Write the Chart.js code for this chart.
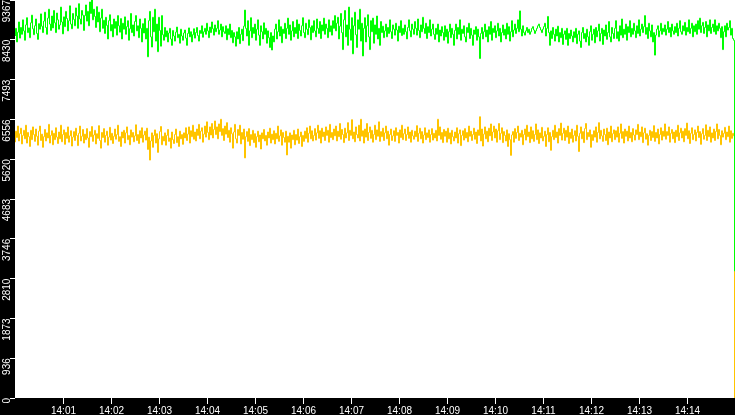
<!DOCTYPE html>
<html>
<head>
<meta charset="utf-8">
<script src="https://cdn.jsdelivr.net/npm/chart.js@4.4.1/dist/chart.umd.min.js"></script>
<style>
  html, body { margin: 0; padding: 0; background: #000; }
  canvas { display: block; }
</style>
</head>
<body>
<canvas id="chart" width="735" height="415"></canvas>
<script>
// sampling: one value every 1.25 s starting at 14:00:00, 15 minutes shown
const stepSeconds = 1.25
const spanSeconds = 900

const xTickLabels = ["14:01", "14:02", "14:03", "14:04", "14:05", "14:06", "14:07",
  "14:08", "14:09", "14:10", "14:11", "14:12", "14:13", "14:14"]
const xTickSeconds = [60, 120, 180, 240, 300, 360, 420, 480, 540, 600, 660, 720, 780, 840]

const yMax = 9367
const yTickLabels = ["0", "936", "1873", "2810", "3746", "4683", "5620", "6556", "7493", "8430", "9367"]

const greenValues = [
  8520, 8700, 8380, 8610, 8850, 8470, 8720, 8560, 8900, 8640,
  8420, 8780, 8950, 8600, 8710, 8480, 8830, 9010, 8690, 8550,
  8760, 8920, 8580, 8440, 8810, 8680, 9040, 8750, 8600, 8870,
  9080, 8720, 8560, 8940, 9150, 8800, 8650, 8990, 8710, 9120,
  8830, 8600, 9060, 8900, 8680, 8780, 9200, 8850, 8570, 8970,
  8740, 9100, 8930, 8640, 8880, 9230, 8800, 8690, 9050, 8910,
  8760, 9180, 8990, 8700, 9280, 8920, 8800, 9120, 9010, 8650,
  9000, 9250, 8870, 9100, 8760, 9320, 9050, 9367, 8900, 9150,
  8980, 8720, 9210, 8850, 9080, 8620, 8940, 9150, 8700, 8890,
  8580, 8960, 8770, 8450, 8880, 9020, 8640, 8790, 8500, 8920,
  8700, 8860, 8540, 9000, 8760, 8610, 8930, 8450, 8820, 8680,
  8970, 8560, 8740, 8880, 8420, 8690, 9050, 8600, 8780, 8520,
  8860, 9000, 8640, 8760, 8480, 8920, 8700, 8380, 8810, 8590,
  8930, 8450, 8700, 8030, 8880, 9100, 8500, 8260, 8960, 8620,
  9150, 8400, 8800, 8150, 8960, 8650, 8280, 9000, 8550, 8420,
  8720, 8500, 8640, 8380, 8590, 8700, 8450, 8300, 8650, 8520,
  8400, 8610, 8730, 8480, 8560, 8350, 8680, 8520, 8420, 8590,
  8660, 8470, 8300, 8580, 8710, 8500, 8620, 8380, 8550, 8690,
  8470, 8600, 8720, 8530, 8400, 8650, 8580, 8760, 8490, 8620,
  8700, 8560, 8820, 8640, 8480, 8730, 8600, 8850, 8690, 8540,
  8780, 8620, 8700, 8880, 8560, 8660, 8800, 8500, 8740, 8620,
  8580, 8760, 8430, 8690, 8550, 8800, 8480, 8650, 8360, 8600,
  8500, 8280, 8620, 8450, 8720, 8340, 8560, 8680, 8410, 8750,
  9130, 8700, 8520, 8880, 8300, 8640, 8950, 8480, 8720, 8580,
  8800, 8420, 8680, 8900, 8540, 8300, 8760, 8620, 8450, 8830,
  8560, 8700, 8350, 8640, 8480, 8250, 8600, 8190, 8520, 8380,
  8680, 8800, 8450, 8620, 8900, 8520, 8740, 8360, 8680, 8580,
  8820, 8460, 8700, 8940, 8560, 8780, 8420, 8640, 8860, 8500,
  8720, 8580, 8900, 8460, 8800, 8650, 8520, 8760, 8950, 8600,
  8480, 8820, 8680, 8550, 8900, 8720, 8430, 8760, 8600, 8880,
  8640, 8500, 8920, 8700, 8580, 8860, 8460, 8780, 8640, 8940,
  8560, 8800, 8700, 8480, 8900, 8620, 8760, 8540, 8880, 8700,
  9000, 8640, 8820, 8960, 8450, 8750, 9050, 8600, 8200, 8900,
  9120, 8500, 8780, 8300, 9200, 8680, 8420, 8950, 8100, 8760,
  9080, 8550, 8250, 8900, 8680, 9150, 8400, 8820, 8050, 8700,
  8950, 8380, 8760, 9020, 8500, 8200, 8880, 8620, 8940, 8350,
  8780, 8560, 8990, 8450, 8700, 8300, 8860, 8600, 8750, 8480,
  8640, 8800, 8500, 8720, 8580, 8900, 8620, 8460, 8780, 8680,
  8540, 8820, 8660, 8400, 8750, 8600, 8880, 8530, 8700, 8560,
  8780, 8620, 8450, 8720, 8900, 8640, 8500, 8800, 8680, 8560,
  8860, 8700, 8540, 8920, 8650, 8480, 8780, 8620, 8960, 8700,
  8580, 8820, 8460, 8740, 8600, 8900, 8520, 8680, 8800, 8560,
  8440, 8700, 8560, 8800, 8380, 8660, 8520, 8740, 8600, 8420,
  8760, 8500, 8680, 8350, 8620, 8800, 8480, 8700, 8560, 8300,
  8650, 8800, 8450, 8720, 8560, 8900, 8420, 8680, 8580, 8760,
  8500, 8380, 8720, 8600, 8820, 8460, 8700, 8540, 8300, 8660,
  8560, 8740, 8420, 8680, 8500, 7990, 8580, 8720, 8450, 8620,
  8800, 8500, 8660, 8380, 8740, 8560, 8860, 8420, 8700, 8600,
  8760, 8480, 8640, 8820, 8520, 8700, 8380, 8600, 8780, 8540,
  8680, 8450, 8820, 8560, 8740, 8400, 8620, 8880, 8500, 8660,
  8800, 8580, 8700, 8900, 8620, 9110, 8680, 8520, 8760, 8600,
  8540, 8640, 8720, 8600, 8680, 8560, 8620, 8700, 8740, 8660,
  8580, 8640, 8700, 8760, 8800, 8720, 8660, 8600, 8680, 8740,
  8820, 8520, 8700, 8980, 8600, 8300, 8640, 8460, 8720, 8560,
  8400, 8680, 8520, 8750, 8380, 8600, 8480, 8700, 8320, 8560,
  8640, 8440, 8700, 8300, 8580, 8460, 8660, 8520, 8380, 8620,
  8480, 8700, 8340, 8560, 8640, 8400, 8250, 8600, 8720, 8460,
  8580, 8380, 8680, 8500, 8300, 8620, 8760, 8420, 8560, 8680,
  8360, 8720, 8500, 8640, 8800, 8400, 8580, 8700, 8320, 8660,
  8520, 8780, 8440, 8600, 8860, 8500, 8380, 8720, 8580, 8460,
  8700, 8880, 8460, 8620, 8400, 8760, 8540, 8920, 8480, 8680,
  8560, 8800, 8420, 8740, 8600, 8880, 8500, 8700, 8560, 8820,
  8640, 8480, 8760, 8580, 8900, 8520, 8680, 8800, 8600, 8740,
  9000, 8560, 8720, 8460, 8820, 8640, 8500, 8780, 8380, 8600,
  8070, 8540, 8680, 8760, 8500, 8640, 8820, 8560, 8700, 8620,
  8780, 8540, 8680, 8860, 8600, 8720, 8500, 8800, 8640, 8560,
  8740, 8600, 8820, 8520, 8700, 8880, 8620, 8560, 8760, 8640,
  8840, 8540, 8720, 8620, 8900, 8580, 8700, 8820, 8500, 8760,
  8620, 8800, 8560, 8880, 8680, 8940, 8600, 8760, 8840, 8580,
  8720, 8860, 8500, 8780, 8640, 8900, 8580, 8720, 8800, 8620,
  8900, 8560, 8760, 8640, 8820, 8700, 8480, 8740, 8200, 8620,
  8760, 8500, 8820, 8660, 8720, 8880, 8540, 8700, 8460, 8420,
  2990
]

const yellowValues = [
  6020, 6280, 6130, 6400, 6050, 6220, 6350, 5980, 6180, 6300,
  6100, 6420, 6000, 6250, 6150, 5920, 6300, 6080, 6380, 6200,
  6040, 6330, 6160, 5950, 6280, 6400, 6060, 6210, 5900, 6150,
  6320, 6050, 6240, 6120, 6440, 6000, 6180, 6290, 5960, 6230,
  6080, 6360, 6140, 5990, 6260, 6100, 6420, 6030, 6200, 6310,
  5970, 6250, 6110, 6380, 6020, 6170, 6290, 5930, 6140, 6270,
  6060, 6350, 6180, 5940, 6230, 6400, 6050, 6160, 6320, 6000,
  6210, 6080, 6340, 6120, 5900, 6270, 6150, 6390, 6040, 6190,
  6300, 5980, 6220, 6110, 6410, 6060, 5880, 6250, 6130, 6340,
  6020, 6180, 6280, 5950, 6140, 6370, 6070, 6230, 5990, 6160,
  6330, 6090, 6200, 6420, 6040, 6150, 5920, 6260, 6120, 6300,
  6000, 6240, 6380, 6080, 6180, 5960, 6310, 6140, 6250, 6030,
  6170, 6430, 6060, 6200, 5990, 6290, 6120, 6360, 6020, 6190,
  6280, 6070, 6350, 5850, 6140, 5600, 6050, 6240, 5900, 6180,
  6310, 6000, 6220, 5780, 6100, 6270, 6390, 5960, 6160, 6050,
  6240, 5950, 6180, 6320, 6040, 6120, 5880, 6260, 6080, 5990,
  6200, 6330, 6010, 6150, 5920, 6280, 6100, 6200, 5970, 6240,
  6120, 6360, 6060, 6210, 6380, 6000, 6290, 6150, 6420, 6090,
  6260, 6050, 6330, 6180, 6440, 6100, 6280, 6360, 6020, 6210,
  6400, 6140, 6500, 6250, 6080, 6380, 6190, 6460, 6120, 6320,
  6520, 6200, 6380, 6100, 6450, 6270, 6560, 6180, 6340, 6060,
  6400, 6210, 6480, 6130, 6300, 6020, 6360, 6220, 5880, 6260,
  6440, 6100, 6000, 6320, 6180, 6420, 5980, 6250, 6090, 6330,
  5650, 6150, 6270, 6040, 6340, 5940, 6200, 6080, 6300, 6010,
  6220, 5900, 6150, 6280, 6030, 6190, 5860, 6240, 6100, 6320,
  6050, 6180, 5950, 6260, 6120, 6350, 6000, 6210, 6080, 6290,
  5980, 6230, 6100, 6400, 6040, 6170, 6310, 5950, 6250, 6130,
  6020, 6280, 5720, 6160, 6020, 6240, 5880, 6190, 6080, 6300,
  5960, 6200, 6070, 6330, 5990, 6150, 6260, 5920, 6180, 6040,
  6280, 6110, 6360, 6020, 6230, 6400, 6100, 6290, 6050, 6180,
  6340, 6070, 6240, 6420, 6110, 6290, 6000, 6350, 6150, 6260,
  6060, 6380, 6180, 6300, 6020, 6440, 6130, 6250, 6080, 6330,
  6170, 6400, 6050, 6280, 6150, 6460, 6090, 6320, 6200, 6010,
  6350, 6120, 6240, 6480, 6060, 6300, 6180, 6550, 6100, 6260,
  6030, 6380, 6200, 6120, 6420, 6050, 6560, 6160, 6290, 6000,
  6330, 6140, 6460, 6060, 6250, 6380, 6110, 6300, 6020, 6200,
  6420, 6080, 6310, 6160, 6500, 6040, 6270, 6150, 6350, 6060,
  6240, 6400, 6100, 6280, 5950, 6200, 6330, 6060, 6170, 6290,
  6040, 6360, 6180, 6250, 6000, 6310, 6130, 6420, 6080, 6220,
  6330, 6060, 6200, 6380, 6110, 6260, 6020, 6300, 6170, 6090,
  6280, 6150, 6410, 6040, 6230, 6350, 6100, 6270, 6000, 6190,
  6360, 6080, 6240, 6130, 6310, 6020, 6200, 6340, 6070, 6230,
  6120, 6300, 6050, 6560, 6180, 6380, 6090, 6250, 6010, 6320,
  6160, 6280, 6020, 6350, 6100, 6240, 5980, 6300, 6150, 6050,
  6260, 6120, 6360, 6000, 6220, 6310, 5940, 6180, 6290, 6070,
  6340, 6120, 6250, 6030, 6400, 6160, 6280, 6060, 6200, 6350,
  6090, 6260, 5990, 6310, 6180, 6620, 6050, 6330, 5930, 6210,
  6380, 6100, 6280, 6030, 6350, 6170, 6450, 6060, 6260, 6400,
  6120, 6330, 6020, 6290, 6460, 6080, 6230, 6360, 6010, 6270,
  6180, 6050, 6310, 5920, 6220, 6080, 5710, 6190, 6270, 6020,
  6340, 6110, 6250, 6400, 6060, 6230, 6140, 6300, 5960, 6200,
  6330, 6070, 6420, 6150, 6260, 6010, 6380, 6100, 6290, 6040,
  6200, 6450, 6080, 6310, 5990, 6240, 6120, 6370, 6050, 6160,
  6280, 5920, 6200, 6360, 6030, 6250, 5830, 6150, 6300, 6080,
  6420, 6130, 6260, 6000, 6340, 6180, 6470, 6070, 6230, 6350,
  6060, 6300, 6140, 6400, 5990, 6250, 6110, 6330, 6020, 6180,
  6290, 6050, 6420, 6160, 5800, 6230, 6380, 6100, 6270, 6010,
  6340, 6460, 6080, 6250, 6150, 6310, 5900, 6200, 6060, 6290,
  6140, 6380, 6020, 6250, 6480, 6100, 6300, 6170, 6040, 6330,
  6200, 6060, 6350, 5960, 6260, 6120, 6400, 6030, 6220, 6310,
  6080, 6290, 6140, 6380, 6020, 6230, 6450, 6110, 6270, 6000,
  6330, 6160, 6280, 6050, 6400, 6120, 6250, 6030, 6340, 6190,
  6070, 6310, 6200, 6440, 6080, 6260, 6150, 6380, 6010, 6240,
  6350, 6090, 6220, 5950, 6180, 6300, 6060, 6270, 6130, 6410,
  6040, 6250, 6120, 6330, 5980, 6200, 6360, 6070, 6280, 6160,
  6450, 6090, 6270, 6180, 6380, 6020, 6230, 6320, 6100, 6260,
  6010, 6300, 6150, 6420, 6060, 6240, 6350, 6120, 6280, 6030,
  6340, 6180, 6470, 6100, 6290, 5990, 6230, 6360, 6080, 6200,
  6310, 6050, 6250, 6400, 6130, 6270, 5970, 6220, 6340, 6090,
  6180, 6430, 6060, 6300, 6150, 6380, 6020, 6240, 6120, 6330,
  6060, 6270, 6450, 6100, 6320, 6180, 5960, 6290, 6140, 6230,
  6370, 6080, 6260, 6150, 6400, 6020, 6290, 6110, 6230, 6170,
  0
]

const toPoints = values => values.map((v, i) => ({ x: Math.min(i * stepSeconds, spanSeconds), y: v }))

// black frame with a white plot area
const plotBackground = {
  id: "plotBackground",
  beforeDraw(chart) {
    const { ctx, chartArea } = chart
    ctx.save()
    ctx.fillStyle = "#000"
    ctx.fillRect(0, 0, chart.width, chart.height)
    ctx.fillStyle = "#fff"
    ctx.fillRect(chartArea.left, chartArea.top, chartArea.right - chartArea.left, chartArea.bottom - chartArea.top)
    ctx.restore()
  }
}

const tickFont = { family: "Liberation Sans", size: 10 }
// half a pixel of time, so the vertical strokes land on whole pixels
const halfPixel = 0.625

new Chart(document.getElementById("chart"), {
  type: "line",
  data: {
    datasets: [
      {
        data: toPoints(greenValues),
        borderColor: "#00ff00",
        borderWidth: 1,
        pointRadius: 0,
        stepped: "after"
      },
      {
        data: toPoints(yellowValues),
        borderColor: "#ffc400",
        borderWidth: 1,
        pointRadius: 0,
        stepped: "after"
      }
    ]
  },
  options: {
    responsive: false,
    animation: false,
    devicePixelRatio: 1,
    layout: { padding: 0 },
    plugins: { legend: { display: false }, tooltip: { enabled: false } },
    scales: {
      x: {
        type: "linear",
        min: -halfPixel,
        max: spanSeconds - halfPixel,
        afterBuildTicks: scale => { scale.ticks = xTickSeconds.map(v => ({ value: v })) },
        afterFit: scale => {
          scale.height = 17
          scale.paddingLeft = 0
          scale.paddingRight = 0
        },
        border: { display: false },
        grid: { drawOnChartArea: false, drawTicks: true, tickLength: 6, tickColor: "#fff", tickWidth: 1 },
        ticks: {
          color: "#fff",
          font: tickFont,
          padding: 1,
          autoSkip: false,
          maxRotation: 0,
          callback: (value, index) => xTickLabels[index]
        }
      },
      y: {
        min: 0,
        max: yMax,
        afterBuildTicks: scale => { scale.ticks = yTickLabels.map((_, i) => ({ value: yMax * i / 10 })) },
        afterFit: scale => {
          scale.width = 15
          scale.paddingTop = 0
          scale.paddingBottom = 0
        },
        border: { display: false },
        grid: { drawOnChartArea: false, drawTicks: true, tickLength: 5, tickColor: "#fff", tickWidth: 1 },
        ticks: {
          color: "#fff",
          font: tickFont,
          padding: 3,
          autoSkip: false,
          minRotation: 90,
          maxRotation: 90,
          callback: (value, index) => yTickLabels[index]
        }
      }
    }
  },
  plugins: [plotBackground]
})
</script>
</body>
</html>
